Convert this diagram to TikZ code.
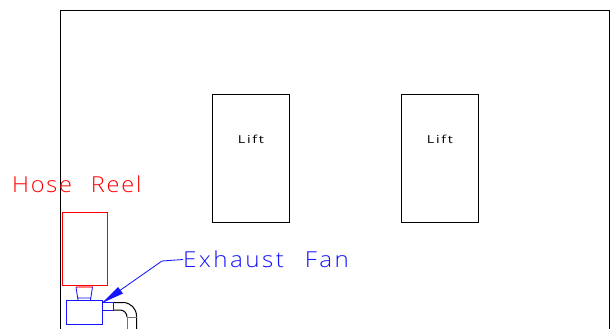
\documentclass[tikz,border=0pt]{standalone}
\usepackage{fontspec}
\setmainfont{Liberation Sans}
\newfontfamily\cadfont[FakeStretch=1.07,LetterSpace=8,WordSpace=2.4]{Open Sans Light}
\newfontfamily\fanfont[FakeStretch=1.1,LetterSpace=11,WordSpace=2.4]{Open Sans Light}
\newfontfamily\liftfont[FakeStretch=1.3,LetterSpace=15]{Open Sans}
\usetikzlibrary{positioning}
\definecolor{reelred}{RGB}{255,0,0}
\definecolor{fanblue}{RGB}{20,20,255}
\tikzset{
	wall/.style={draw=black, line width=0.75pt},
	lift/.style={draw=black, line width=0.75pt, minimum width=77pt, minimum height=127pt, inner sep=0pt},
	reelbox/.style={draw=reelred, line width=0.85pt},
	fanline/.style={draw=fanblue, line width=0.85pt},
	label/.style={inner sep=0pt, anchor=west},
	smalltext/.style={inner sep=0pt, font=\liftfont\fontsize{11}{12}\selectfont},
	bigtext/.style={label, font=\cadfont\fontsize{22}{22}\selectfont},
	fantext/.style={label, font=\fanfont\fontsize{22}{22}\selectfont}
}
\begin{document}
\begin{tikzpicture}[x=1pt, y=-1pt]
	\useasboundingbox (0,0) rectangle (614,329);
	\fill[white] (0,0) rectangle (614,329);
	% building
	\draw[wall] (60.5,329) -- (60.5,10) -- (609,10) -- (609,329);
	\node[lift, anchor=north west] (liftA) at (212,94.5) {};
	\node[lift, anchor=north west] (liftB) at (401,94.5) {};
	\node[smalltext] (liftAtext) at (liftA.center |- 0,139) {Lift};
	\node[smalltext] (liftBtext) at (liftB.center |- 0,139) {Lift};
	% hose reel
	\node[bigtext, text=reelred] (reeltext) at (12,184.5) {Hose Reel};
	\draw[reelbox] (62,212) rectangle (107,285);
	\fill[reelred!50] (76,285.5) rectangle (92.5,287.5);
	% exhaust fan
	\node[fantext, text=fanblue] (fanlabel) at (183,259.5) {Exhaust Fan};
	\draw[fanline] (66,300) rectangle (102,324);
	\draw[fanline] (102,302.5) rectangle (113,310);
	\draw[fanline] (76,287) -- (78,300) (92.5,287) -- (90.5,300) (78,298) -- (90.5,298);
	\coordinate (tip) at (102,303);
	\coordinate (elbow) at (162,261);
	\draw[fanline] (fanlabel.west) -- (elbow) -- (tip);
	\fill[fanblue] (tip) -- (118,287) -- (123,293.5) -- cycle;
	% duct
	\draw[black, line width=1pt] (114,302.5) -- (123,302.5) arc[start angle=-90, end angle=0, radius=13.5] -- (136.5,329);
	\draw[black, line width=1pt] (114,310) -- (120,310) arc[start angle=-90, end angle=0, radius=7];
	\draw[black!55, line width=1pt] (127,317) -- (127,329);
	\draw[black!55, line width=0.8pt] (127,317) -- (136.5,317);
\end{tikzpicture}
\end{document}
